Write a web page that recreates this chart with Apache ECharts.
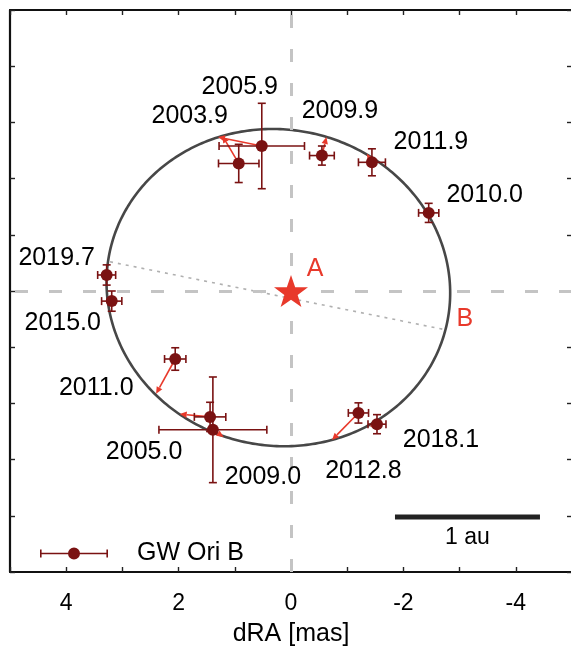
<!DOCTYPE html>
<html>
<head>
<meta charset="utf-8">
<script src="https://cdn.jsdelivr.net/npm/echarts@6/dist/echarts.min.js"></script>
<style>
  html, body { margin: 0; padding: 0; background: #fff; }
  #chart { width: 571px; height: 651px; }
</style>
</head>
<body>
<div id="chart"></div>
<script>
// Relative astrometry of GW Ori B with respect to A (offsets in mas)
const epochs  = ['2003.9', '2005.0', '2005.9', '2009.0', '2009.9', '2010.0', '2011.0', '2011.9', '2012.8', '2015.0', '2018.1', '2019.7'];
const dRA     = [0.93, 1.44, 0.52, 1.39, -0.55, -2.45, 2.06, -1.44, -1.20, 3.19, -1.53, 3.28];
const dDec    = [2.27, -2.24, 2.58, -2.47, 2.41, 1.39, -1.21, 2.29, -2.17, -0.18, -2.37, 0.285];
const errRA   = [0.36, 0.28, 0.76, 0.96, 0.22, 0.18, 0.19, 0.24, 0.18, 0.18, 0.16, 0.16];
const errDec  = [0.34, 0.26, 0.76, 0.94, 0.17, 0.17, 0.20, 0.24, 0.18, 0.18, 0.17, 0.18];
// orbit-model position at each epoch (heads of the residual arrows)
const modelRA  = [1.22, 1.98, 1.30, 1.20, -0.63, -2.45, 2.40, -1.35, -0.73, 3.19, -1.40, 3.28];
const modelDec = [2.76, -2.19, 2.74, -2.60, 2.74, 1.39, -1.83, 2.44, -2.65, -0.18, -2.41, 0.285];

// projected relative orbit: centre (dRA, dDec), semi-axes, tilt of first axis (deg, from +dRA toward +dDec)
const orbitCenter = [0.225, 0.06];
const orbitAxes   = [3.067, 2.812];
const orbitTilt   = 11.5;

const primaryPos = [0, 0];                          // component A
const nodeLine   = [[3.22, 0.52], [-2.70, -0.68]];  // dotted line, ends at B
const scaleBarAU = 2.58;                            // 1 au expressed in mas
const scaleBarStart = [-1.85, -4.02];

const xRange = [-5, 5];   // axis ranges (mas)
const yRange = [-5, 5];

// ---- styles and label placement ----
const FONT = 'Liberation Sans, Arial, Helvetica, sans-serif';
const TEXT_COLOR = '#000';
const POINT_COLOR = '#7a1212';
const ARROW_COLOR = '#e8392b';
const labelOffsets = [[-49, -47], [-66, 35], [-22, -59], [50, 47], [18, -44], [56, -18],
                      [-79, 29], [59, -20], [5, 58], [-49, 22], [64, 16], [-50, -17]];
const STAR = 'path://M50,0L61.8,35.1L98.1,35.1L68.8,56.7L79.4,90.9L50,70L20.6,90.9L31.2,56.7L1.9,35.1L38.2,35.1Z';
const LEGEND_ICON = 'path://M0,6.2H68V7.8H0Z M0,3H1.6V11H0Z M66.4,3H68V11H66.4Z M40,7A6,6,0,1,1,28,7A6,6,0,1,1,40,7Z';
const CLEAR = { color: 'rgba(0,0,0,0)', opacity: 1 };

const chart = echarts.init(document.getElementById('chart'), null, { renderer: 'canvas' });

function axisBase(pos, showLabel) {
  const horiz = pos === 'top' || pos === 'bottom';
  return {
    type: 'value', position: pos,
    min: horiz ? xRange[0] : yRange[0],
    max: horiz ? xRange[1] : yRange[1],
    interval: 1,
    inverse: horiz,
    splitLine: { show: false },
    // the right-hand frame edge falls just outside the canvas
    axisLine: { show: pos !== 'right', onZero: false, lineStyle: { color: '#111', width: 2.2 } },
    axisTick: { show: true, inside: true, length: 5, lineStyle: { color: '#222', width: 1.4 } },
    axisLabel: { show: showLabel }
  };
}

const bottomX = Object.assign(axisBase('bottom', true), {
  name: 'dRA [mas]', nameLocation: 'middle', nameGap: 50,
  nameTextStyle: { fontSize: 25, color: TEXT_COLOR, fontFamily: FONT },
  axisLabel: {
    show: true, margin: 20, fontSize: 23, color: TEXT_COLOR, fontFamily: FONT,
    formatter: v => (Math.round(v) % 2 === 0 ? String(Math.round(v)) : '')
  }
});

const option = {
  animation: false,
  backgroundColor: '#fff',
  grid: { left: 10, top: 10, width: 562, height: 562, containLabel: false, outerBoundsMode: 'none' },
  xAxis: [bottomX, axisBase('top', false)],
  yAxis: [axisBase('left', false), axisBase('right', false)],
  legend: {
    data: ['GW Ori B'], left: 40, top: 541, padding: 0, itemWidth: 68, itemHeight: 12,
    icon: LEGEND_ICON,
    textStyle: { fontSize: 25, color: TEXT_COLOR, fontFamily: FONT, padding: [0, 0, 0, 24] }
  },
  series: [
    {
      // dashed reference lines through A
      type: 'line', data: [], silent: true, z: 1,
      markLine: {
        silent: true, symbol: 'none', label: { show: false },
        lineStyle: { color: '#c4c4c4', width: 3, type: [13, 21] },
        data: [{ xAxis: 0 }, { yAxis: 0 }]
      }
    },
    {
      // dotted line towards B
      type: 'line', data: nodeLine, symbol: 'none', silent: true, z: 2,
      lineStyle: { color: '#b0b0b0', width: 1.6, type: [3, 5] }
    },
    {
      // projected orbit
      type: 'custom', silent: true, z: 3, clip: false,
      data: [[orbitCenter[0], orbitCenter[1], orbitAxes[0], orbitAxes[1], orbitTilt]],
      encode: { x: 0, y: 1 },
      renderItem(params, api) {
        const cx = api.value(0), cy = api.value(1), a = api.value(2), b = api.value(3);
        const th = api.value(4) * Math.PI / 180;
        const pts = [];
        for (let k = 0; k <= 360; k++) {
          const t = k * Math.PI / 180;
          const u = a * Math.cos(t), v = b * Math.sin(t);
          pts.push(api.coord([cx + u * Math.cos(th) - v * Math.sin(th),
                              cy + u * Math.sin(th) + v * Math.cos(th)]));
        }
        return { type: 'polyline', shape: { points: pts }, style: { stroke: '#474747', lineWidth: 2.6, fill: null } };
      }
    },
    {
      // residual arrows: observed position -> orbit model
      type: 'custom', silent: true, z: 4, clip: false,
      data: dRA.map((v, i) => [v, dDec[i], modelRA[i], modelDec[i]]),
      encode: { x: 0, y: 1 },
      renderItem(params, api) {
        const p0 = api.coord([api.value(0), api.value(1)]);
        const p1 = api.coord([api.value(2), api.value(3)]);
        const dx = p1[0] - p0[0], dy = p1[1] - p0[1];
        const len = Math.hypot(dx, dy);
        if (len < 2) return null;
        const ux = dx / len, uy = dy / len;
        const hl = 7, hw = 3.2;
        const bx = p1[0] - ux * hl, by = p1[1] - uy * hl;
        return {
          type: 'group', children: [
            { type: 'line', shape: { x1: p0[0], y1: p0[1], x2: bx, y2: by }, style: { stroke: ARROW_COLOR, lineWidth: 1.6 } },
            { type: 'polygon', shape: { points: [[p1[0], p1[1]], [bx - uy * hw, by + ux * hw], [bx + uy * hw, by - ux * hw]] },
              style: { fill: ARROW_COLOR } }
          ]
        };
      }
    },
    {
      // measurements with error bars
      name: 'GW Ori B', type: 'custom', z: 5, clip: false,
      itemStyle: { color: POINT_COLOR },
      data: dRA.map((v, i) => [v, dDec[i], errRA[i], errDec[i]]),
      encode: { x: 0, y: 1 },
      renderItem(params, api) {
        const x = api.value(0), y = api.value(1), ex = api.value(2), ey = api.value(3);
        const c = api.coord([x, y]);
        const l = api.coord([x + ex, y]), r = api.coord([x - ex, y]);
        const t = api.coord([x, y + ey]), b = api.coord([x, y - ey]);
        const cap = 4;
        const st = { stroke: POINT_COLOR, lineWidth: 1.6 };
        return {
          type: 'group', children: [
            { type: 'line', shape: { x1: l[0], y1: l[1], x2: r[0], y2: r[1] }, style: st },
            { type: 'line', shape: { x1: l[0], y1: l[1] - cap, x2: l[0], y2: l[1] + cap }, style: st },
            { type: 'line', shape: { x1: r[0], y1: r[1] - cap, x2: r[0], y2: r[1] + cap }, style: st },
            { type: 'line', shape: { x1: t[0], y1: t[1], x2: b[0], y2: b[1] }, style: st },
            { type: 'line', shape: { x1: t[0] - cap, y1: t[1], x2: t[0] + cap, y2: t[1] }, style: st },
            { type: 'line', shape: { x1: b[0] - cap, y1: b[1], x2: b[0] + cap, y2: b[1] }, style: st },
            { type: 'circle', shape: { cx: c[0], cy: c[1], r: 6 }, style: { fill: POINT_COLOR } }
          ]
        };
      }
    },
    {
      // epoch labels
      type: 'scatter', silent: true, z: 6, symbol: 'circle', symbolSize: 1,
      itemStyle: CLEAR,
      data: dRA.map((v, i) => ({
        value: [v, dDec[i]],
        label: { offset: labelOffsets[i] }
      })),
      label: {
        show: true, position: 'inside', fontSize: 25, color: TEXT_COLOR, fontFamily: FONT,
        formatter: p => epochs[p.dataIndex]
      }
    },
    {
      // component A
      type: 'scatter', silent: true, z: 7,
      symbol: STAR, symbolSize: [34, 32],
      itemStyle: { color: ARROW_COLOR, opacity: 1 },
      data: [primaryPos],
      label: { show: true, position: 'inside', offset: [24, -22], formatter: 'A', fontSize: 25, color: ARROW_COLOR, fontFamily: FONT }
    },
    {
      // label B at the end of the dotted line
      type: 'scatter', silent: true, z: 7, symbolSize: 1,
      itemStyle: CLEAR,
      data: [nodeLine[1]],
      label: { show: true, position: 'inside', offset: [22, -10], formatter: 'B', fontSize: 25, color: ARROW_COLOR, fontFamily: FONT }
    },
    {
      // 1 au scale bar
      type: 'line', silent: true, z: 7, symbol: 'none',
      data: [scaleBarStart, [scaleBarStart[0] - scaleBarAU, scaleBarStart[1]]],
      lineStyle: { color: '#222', width: 5, cap: 'butt' }
    },
    {
      type: 'scatter', silent: true, z: 7, symbolSize: 1,
      itemStyle: CLEAR,
      data: [[scaleBarStart[0] - scaleBarAU / 2, scaleBarStart[1]]],
      label: { show: true, position: 'inside', offset: [0, 21], formatter: '1 au', fontSize: 23, color: TEXT_COLOR, fontFamily: FONT }
    }
  ]
};

chart.setOption(option);
</script>
</body>
</html>
